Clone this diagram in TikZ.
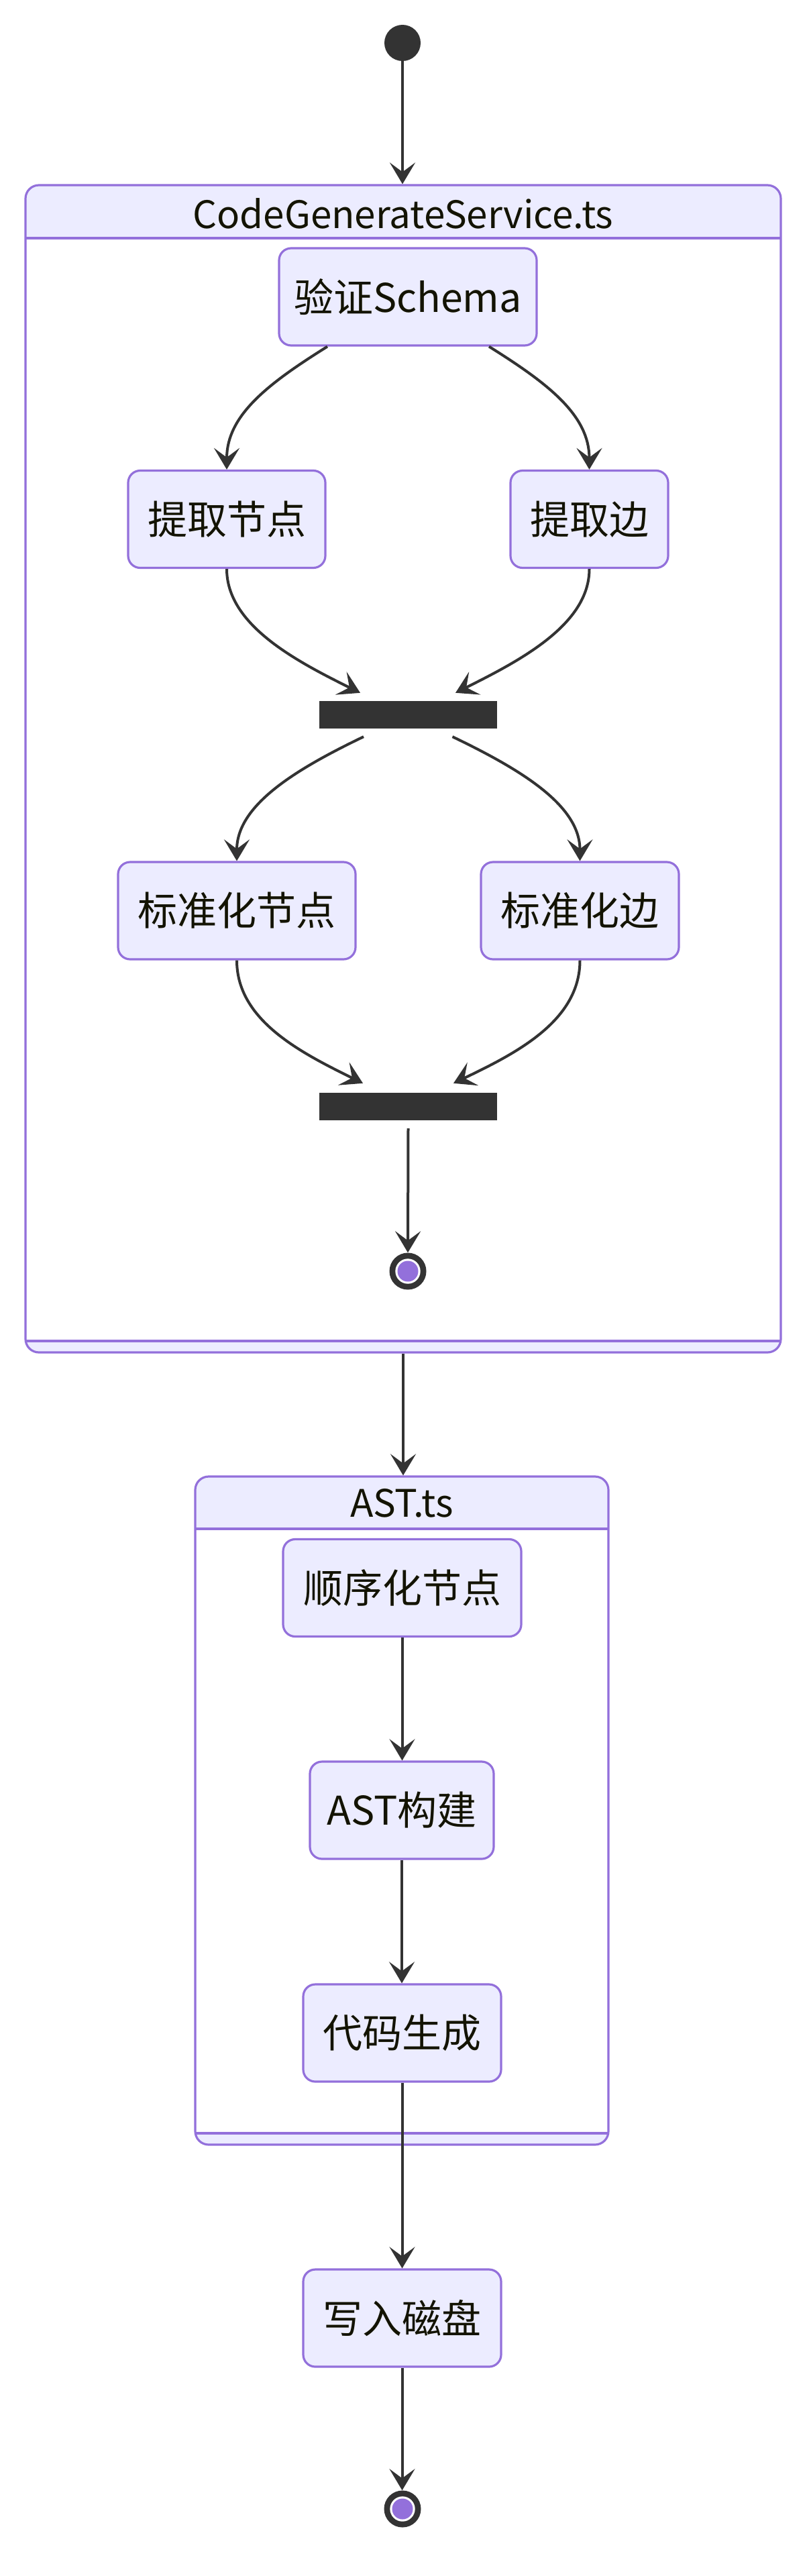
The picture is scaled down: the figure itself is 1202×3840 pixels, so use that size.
\documentclass[tikz,border=0pt]{standalone}
\usepackage{fontspec}
\setmainfont{Noto Sans CJK SC}
\usetikzlibrary{arrows.meta}
\definecolor{lav}{HTML}{ECECFF}
\definecolor{pur}{HTML}{9370DB}
\definecolor{dk}{HTML}{333333}
\definecolor{txt}{HTML}{131300}
\begin{document}
\begin{tikzpicture}[x=1pt,y=-1pt,
  state/.style={draw=pur, fill=lav, line width=3.2pt, rounded corners=18pt, inner sep=0pt,
    minimum height=145pt, text=txt, font=\fontsize{59}{71}\selectfont},
  comp/.style={draw=pur, fill=lav, line width=3.2pt, rounded corners=20pt, inner sep=0pt},
  forkbar/.style={fill=dk, draw=none, minimum width=265pt, minimum height=41pt, inner sep=0pt},
  conn/.style={draw=dk, line width=4pt, -{Stealth[length=32pt,width=38pt,inset=14pt]}},
  ttl/.style={text=txt, font=\fontsize{56.5}{68}\selectfont, inner sep=0pt},
  startdot/.style={circle, fill=dk, draw=none, minimum size=54pt, inner sep=0pt},
  enddot/.style={circle, fill=dk, draw=none, minimum size=55pt, inner sep=0pt},
  divider/.style={draw=pur, line width=3.2pt}
]
\useasboundingbox (0,0) rectangle (1202,3840);

% composite: CodeGenerateService.ts
\node (cgs) [comp, minimum width=1126pt, minimum height=1740pt] at (601,1146) {};
\fill[white] (40,355) rectangle (1162,1999);
\draw[divider] (38,355) -- (1164,355);
\draw[divider] (38,1999) -- (1164,1999);
\node (cgst) [ttl] at (601,318) {CodeGenerateService.ts};

% composite: AST.ts
\node (astc) [comp, minimum width=616pt, minimum height=996pt] at (599,2699) {};
\fill[white] (293,2279) rectangle (905,3180);
\draw[divider] (291,2279) -- (907,2279);
\draw[divider] (291,3180) -- (907,3180);
\node (astt) [ttl] at (599,2241) {AST.ts};

% start / end
\node (start) [startdot] at (600,64) {};
\node (end1) [enddot] at (608,1895) {};
\fill[white] (end1.center) circle (18.7pt);
\fill[pur] (end1.center) circle (15.5pt);
\node (end2) [enddot] at (600,3740) {};
\fill[white] (end2.center) circle (18.7pt);
\fill[pur] (end2.center) circle (15.5pt);

% states
\node (val) [state, minimum width=384pt] at (608,442.5) {验证Schema};
\node (tn) [state, minimum width=294pt] at (338,774) {提取节点};
\node (te) [state, minimum width=235pt] at (878.5,774) {提取边};
\node (bar1) [forkbar] at (608.5,1065.5) {};
\node (sn) [state, minimum width=354pt] at (353,1357.5) {标准化节点};
\node (se) [state, minimum width=295pt] at (864.5,1357.5) {标准化边};
\node (bar2) [forkbar] at (608.5,1649.5) {};

\node (sq) [state, minimum width=355pt] at (599.5,2367) {顺序化节点};
\node (ab) [state, minimum width=274pt] at (599,2698.5) {AST构建};
\node (cg) [state, minimum width=295pt] at (599.5,3030.5) {代码生成};
\node (wd) [state, minimum width=295pt] at (599.5,3455.5) {写入磁盘};

% connectors
\draw[conn] (start.south) -- (start.south |- cgs.north);
\draw[conn] ([xshift=-120pt]val.south) .. controls +(-88,55) and +(0,-81) .. (tn.north);
\draw[conn] ([xshift=121pt]val.south) .. controls +(88,55) and +(0,-81) .. (te.north);
\draw[conn] (tn.south) .. controls +(0,83) and +(-97,-48) .. ([xshift=-71.5pt,yshift=12pt]bar1.north);
\draw[conn] (te.south) .. controls +(0,83) and +(96,-48) .. ([xshift=70.5pt,yshift=12pt]bar1.north);
\draw[conn] ([xshift=-66.5pt,yshift=-12pt]bar1.south) .. controls +(-102,49) and +(0,-83) .. (sn.north);
\draw[conn] ([xshift=66pt,yshift=-12pt]bar1.south) .. controls +(102,49) and +(0,-83) .. (se.north);
\draw[conn] (sn.south) .. controls +(0,90) and +(-91,-45) .. ([xshift=-67.5pt,yshift=14pt]bar2.north);
\draw[conn] (se.south) .. controls +(0,90) and +(94,-45) .. ([xshift=67.5pt,yshift=14pt]bar2.north);
\draw[conn] ([yshift=-12pt]bar2.south) -- (end1.north);
\draw[conn] (cgs.south) -- (cgs.south |- astc.north);
\draw[conn] (sq.south) -- (sq.south |- ab.north);
\draw[conn] (ab.south) -- (ab.south |- cg.north);
\draw[conn] (cg.south) -- (cg.south |- wd.north);
\draw[conn] (wd.south) -- (wd.south |- end2.north);
\end{tikzpicture}
\end{document}
